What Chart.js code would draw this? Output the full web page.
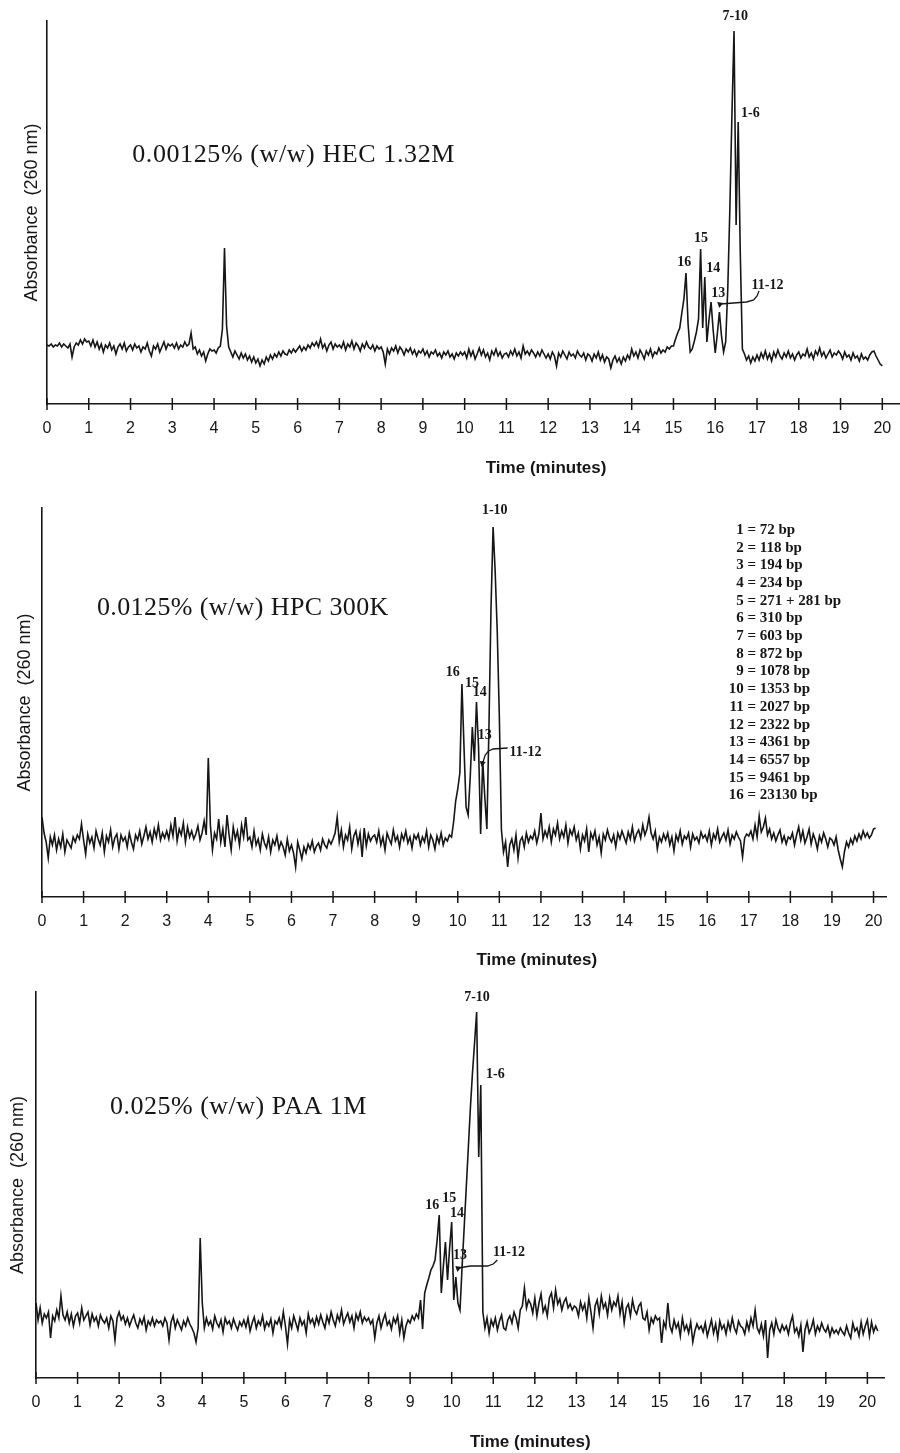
<!DOCTYPE html>
<html>
<head>
<meta charset="utf-8">
<script src="https://cdn.jsdelivr.net/npm/chart.js@4.4.1/dist/chart.umd.min.js"></script>
<style>
  body { margin: 0; background: #fff; width: 900px; height: 1453px; position: relative; overflow: hidden; }
  .panel { position: absolute; left: 0; width: 900px; }
</style>
</head>
<body>
<div class="panel" style="top:0;height:485px"><canvas id="hec"></canvas></div>
<div class="panel" style="top:480px;height:490px"><canvas id="hpc"></canvas></div>
<div class="panel" style="top:970px;height:483px"><canvas id="paa"></canvas></div>
<script>
// sampling step of the traces (minutes)
const STEP = 0.05;
const timeTicks = [0,1,2,3,4,5,6,7,8,9,10,11,12,13,14,15,16,17,18,19,20];

// absorbance traces, one row per minute
const hecAbs = [
  59,58,60,57,59,58,61,57,60,58,56,60,47,57,61,59,64,60,65,62,
  63,58,64,57,62,55,60,52,59,56,61,54,58,50,57,60,55,61,53,57,
  59,54,60,56,58,52,57,55,61,53,48,58,55,60,52,57,62,55,60,58,
  60,56,61,55,59,57,62,58,60,71,55,57,50,54,48,52,43,50,55,53,
  54,51,56,58,75,156,78,57,52,47,53,49,45,51,46,50,44,48,42,47,
  41,45,38,44,40,47,43,49,45,50,47,52,48,53,50,49,54,51,55,52,
  55,58,53,57,54,59,56,61,58,62,57,65,56,60,53,59,62,55,60,57,
  59,56,62,54,60,57,63,55,61,58,53,60,56,62,57,55,59,53,58,55,
  57,52,40,55,50,56,53,58,51,57,54,49,55,52,56,50,54,48,53,51,
  55,49,53,47,52,50,54,48,51,46,52,49,53,47,50,45,51,48,52,49,
  52,46,55,48,53,45,50,56,49,54,47,51,44,53,49,55,48,52,46,50,
  51,47,53,49,55,48,52,46,58,50,53,49,54,51,47,52,48,54,50,46,
  50,45,52,48,38,51,47,53,49,45,52,48,50,46,53,49,47,51,44,50,
  48,43,50,46,52,44,49,42,47,45,36,44,48,42,46,40,47,43,49,45,
  55,48,52,46,54,50,45,53,49,55,47,52,50,56,51,54,52,57,55,58,
  58,65,71,76,91,105,131,80,52,55,63,72,85,155,76,127,62,84,102,74,
  51,70,92,68,52,62,115,195,290,373,179,282,150,55,50,44,48,41,47,43,
  49,44,51,46,53,45,50,43,52,47,54,48,45,51,47,53,46,50,44,49,
  52,46,50,48,55,47,51,45,53,49,56,48,52,46,50,54,47,51,49,53,
  50,45,52,47,49,44,51,46,48,43,50,45,47,44,49,52,53,48,44,40,
  38
];
const hpcAbs = [
  80,64,55,39,60,52,62,47,58,50,63,45,57,53,49,60,55,62,58,73,
  57,43,63,54,60,49,66,58,52,64,45,61,55,67,50,59,63,48,62,56,
  60,50,64,55,48,62,57,66,53,61,70,58,65,55,68,60,72,57,64,59,
  66,58,72,61,80,56,68,62,74,55,70,60,66,58,63,71,57,64,76,62,
  139,72,47,64,58,78,55,68,50,82,62,47,70,58,66,52,72,60,80,57,
  60,50,66,52,58,47,63,54,49,60,45,57,52,61,48,55,50,42,58,46,
  52,44,30,55,47,38,50,44,53,48,56,45,51,54,47,58,52,49,57,53,
  58,64,80,55,67,50,62,57,70,48,61,66,53,64,40,69,51,63,56,60,
  62,55,66,52,60,47,64,58,53,67,56,61,50,63,57,66,54,60,49,62,
  58,63,52,60,55,66,50,62,57,48,61,54,64,52,59,56,62,60,75,96,
  108,124,213,150,90,82,120,170,136,195,150,63,136,100,68,170,290,370,325,265,
  180,67,45,55,30,52,58,47,62,39,56,60,50,64,55,61,58,66,54,63,
  84,58,66,60,70,55,68,62,74,58,66,60,72,54,67,62,70,57,64,48,
  62,56,68,45,64,58,66,52,60,44,63,57,67,59,55,62,50,64,58,66,
  60,54,65,58,70,56,63,67,59,72,62,68,80,64,58,66,48,60,55,63,
  57,64,52,60,46,62,56,66,53,61,58,64,50,63,57,60,54,65,59,62,
  56,66,52,63,58,68,55,60,64,57,67,53,62,58,65,60,56,40,59,63,
  61,66,58,72,60,81,65,70,79,62,68,58,64,56,62,67,55,61,53,60,
  58,64,52,62,70,57,66,54,60,68,53,63,57,48,61,55,64,58,50,59,
  57,52,60,47,38,30,45,55,50,58,53,61,56,63,58,66,60,64,59,62,
  68,69
];
const paaAbs = [
  75,58,70,55,64,60,66,40,62,57,68,60,82,63,58,66,55,64,52,62,
  65,55,70,58,62,66,53,64,57,61,52,63,58,55,60,50,62,57,38,60,
  66,58,62,54,60,52,58,63,55,50,59,54,61,48,57,53,60,52,58,55,
  57,52,60,55,38,56,62,50,58,53,48,57,52,60,54,50,45,36,50,140,
  75,50,60,53,57,49,62,55,51,58,46,60,54,57,50,59,53,48,56,52,
  58,51,60,47,55,61,50,57,53,62,49,56,52,59,45,57,54,60,51,66,
  52,34,58,50,62,55,48,60,53,57,45,64,55,59,52,61,54,63,56,50,
  62,55,66,58,52,63,57,68,54,60,65,56,62,50,64,58,66,55,61,57,
  60,54,58,40,55,62,50,58,64,53,57,49,60,55,62,45,58,40,52,58,
  55,62,58,64,60,78,49,85,93,100,108,112,118,138,163,85,112,136,98,130,
  156,78,101,75,68,111,150,190,230,270,305,335,366,221,293,66,50,60,45,58,
  52,60,48,57,63,50,48,58,62,55,66,60,50,68,72,90,70,78,74,65,
  80,62,75,84,66,72,62,80,85,70,88,74,79,68,76,80,70,74,68,72,
  70,62,76,68,74,60,80,66,50,72,78,64,82,70,75,63,80,68,76,72,
  82,64,76,55,70,74,62,78,68,64,72,75,60,58,66,48,60,55,62,58,
  60,35,56,50,75,52,46,58,50,55,42,60,48,53,45,56,36,47,54,49,
  52,46,55,42,50,58,45,54,40,57,49,53,44,56,48,60,50,45,57,52,
  50,44,56,48,60,52,68,50,45,54,42,58,20,48,55,44,58,50,46,53,
  48,52,44,55,62,46,50,42,53,26,48,56,45,50,58,44,52,47,55,49,
  46,52,42,50,45,48,44,50,46,43,52,45,40,55,47,50,42,56,44,52,
  58,42,56,46,52,47
];

// fragment sizes listed on the middle panel
const bandIds = ['1','2','3','4','5','6','7','8','9','10','11','12','13','14','15','16'];
const bandSizes = ['72 bp','118 bp','194 bp','234 bp','271 + 281 bp','310 bp','603 bp','872 bp',
  '1078 bp','1353 bp','2027 bp','2322 bp','4361 bp','6557 bp','9461 bp','23130 bp'];

const INK = '#161616';
const TITLE_FONT = '26px "Liberation Serif", serif';
const PEAK_FONT = 'bold 14px "Liberation Serif", serif';
const AXIS_TITLE_FONT = 'bold 17px "Liberation Sans", Arial, sans-serif';

// texts placed in data units (t = minutes, v = absorbance units)
const hecNotes = [
  { text: '0.00125% (w/w) HEC 1.32M', t: 2.04, v: 242, font: TITLE_FONT, align: 'left', base: 'alphabetic', spacing: '0.6px' },
  { text: '7-10', t: 16.48, v: 388, font: PEAK_FONT },
  { text: '1-6', t: 16.84, v: 291, font: PEAK_FONT },
  { text: '16', t: 15.26, v: 142, font: PEAK_FONT },
  { text: '15', t: 15.66, v: 166, font: PEAK_FONT },
  { text: '14', t: 15.95, v: 136, font: PEAK_FONT },
  { text: '13', t: 16.07, v: 111, font: PEAK_FONT },
  { text: '11-12', t: 17.25, v: 119, font: PEAK_FONT },
  { text: 'Time (minutes)', t: 11.95, v: -64, font: AXIS_TITLE_FONT }
];
const hecLeader = [[16.12, 100], [16.75, 102], [16.92, 104], [17.0, 108], [17.05, 113]];

const hpcNotes = [
  { text: '0.0125% (w/w) HPC 300K', t: 1.32, v: 282, font: TITLE_FONT, align: 'left', base: 'alphabetic', spacing: '0.4px' },
  { text: '1-10', t: 10.89, v: 387, font: PEAK_FONT },
  { text: '16', t: 9.88, v: 225, font: PEAK_FONT },
  { text: '15', t: 10.34, v: 214, font: PEAK_FONT },
  { text: '14', t: 10.53, v: 205, font: PEAK_FONT },
  { text: '13', t: 10.65, v: 162, font: PEAK_FONT },
  { text: '11-12', t: 11.63, v: 145, font: PEAK_FONT },
  { text: 'Time (minutes)', t: 11.9, v: -63, font: AXIS_TITLE_FONT }
];
const hpcLeader = [[10.6, 134], [10.66, 142], [10.74, 146], [10.85, 148], [11.2, 149]];

const paaNotes = [
  { text: '0.025% (w/w) PAA 1M', t: 1.78, v: 264, font: TITLE_FONT, align: 'left', base: 'alphabetic', spacing: '0.5px' },
  { text: '7-10', t: 10.61, v: 381, font: PEAK_FONT },
  { text: '1-6', t: 11.05, v: 304, font: PEAK_FONT },
  { text: '16', t: 9.53, v: 173, font: PEAK_FONT },
  { text: '15', t: 9.94, v: 180, font: PEAK_FONT },
  { text: '14', t: 10.13, v: 165, font: PEAK_FONT },
  { text: '13', t: 10.2, v: 123, font: PEAK_FONT },
  { text: '11-12', t: 11.38, v: 126, font: PEAK_FONT },
  { text: 'Time (minutes)', t: 11.89, v: -64, font: AXIS_TITLE_FONT }
];
const paaLeader = [[10.16, 110], [10.45, 112], [10.86, 112], [11.0, 114], [11.1, 118]];

// draws the peak labels, the 11-12 leader and (middle panel) the bp list
function notesPlugin(notes, leader, withBands) {
  return {
    id: 'notes',
    afterDraw(chart) {
      const ctx = chart.ctx;
      const xs = chart.scales.x, ys = chart.scales.y;
      const px = t => xs.getPixelForValue(t);
      const py = v => ys.getPixelForValue(v);
      const axisY = chart.chartArea.bottom;
      ctx.save();
      ctx.fillStyle = INK;
      ctx.strokeStyle = INK;

      // tick marks crossing the time axis
      ctx.lineWidth = 1.5;
      xs.ticks.forEach(tk => {
        const x = px(tk.value);
        ctx.beginPath();
        ctx.moveTo(x, axisY - 6);
        ctx.lineTo(x, axisY + 6);
        ctx.stroke();
      });

      notes.forEach(n => {
        ctx.font = n.font;
        ctx.letterSpacing = n.spacing || '0px';
        ctx.textAlign = n.align || 'center';
        ctx.textBaseline = n.base || 'middle';
        ctx.fillText(n.text, px(n.t), py(n.v));
      });
      ctx.letterSpacing = '0px';

      // leader line with a small arrow head at the peak end
      ctx.lineWidth = 1.3;
      ctx.beginPath();
      leader.forEach((p, i) => {
        if (i === 0) ctx.moveTo(px(p[0]), py(p[1]));
        else ctx.lineTo(px(p[0]), py(p[1]));
      });
      ctx.stroke();
      const ax = px(leader[0][0]), ay = py(leader[0][1]);
      ctx.beginPath();
      ctx.moveTo(ax - 1, ay + 4);
      ctx.lineTo(ax - 3, ay - 2);
      ctx.lineTo(ax + 3, ay - 1);
      ctx.closePath();
      ctx.fill();

      if (withBands) {
        ctx.font = 'bold 15px "Liberation Serif", serif';
        ctx.textBaseline = 'middle';
        const eqX = px(17.07);
        bandIds.forEach((id, i) => {
          const y = py(367 - i * 17.7);
          ctx.textAlign = 'right';
          ctx.fillText(id, eqX - 8, y);
          ctx.textAlign = 'center';
          ctx.fillText('=', eqX, y);
          ctx.textAlign = 'left';
          ctx.fillText(bandSizes[i], eqX + 8, y);
        });
      }
      ctx.restore();
    }
  };
}

// one chromatogram panel
function makePanel(id, values, opts) {
  const points = values.map((v, i) => ({ x: +(i * STEP).toFixed(2), y: v }));
  const ctx = document.getElementById(id).getContext('2d');
  return new Chart(ctx, {
    type: 'line',
    data: {
      datasets: [{
        data: points,
        borderColor: INK,
        borderWidth: 1.6,
        pointRadius: 0,
        tension: 0,
        fill: false
      }]
    },
    options: {
      responsive: true,
      maintainAspectRatio: false,
      animation: false,
      layout: { padding: { top: opts.top, right: opts.right, left: 0, bottom: 0 } },
      plugins: { legend: { display: false }, tooltip: { enabled: false } },
      scales: {
        x: {
          type: 'linear',
          min: 0,
          max: opts.xMax,
          afterBuildTicks: scale => { scale.ticks = timeTicks.map(v => ({ value: v })); },
          afterFit: scale => {
            scale.height = opts.xHeight;
            scale.paddingLeft = 0;
            scale.paddingRight = 0;
          },
          grid: { display: false, drawTicks: false },
          border: { display: true, color: INK, width: 1.6 },
          ticks: {
            color: INK,
            padding: 15,
            maxRotation: 0,
            autoSkip: false,
            font: { family: '"Liberation Sans", Arial, sans-serif', size: 16 }
          }
        },
        y: {
          min: 0,
          max: opts.yMax,
          afterFit: scale => { scale.width = opts.left; },
          grid: { display: false, drawTicks: false },
          border: { display: true, color: INK, width: 1.6 },
          ticks: { display: false },
          title: {
            display: true,
            text: 'Absorbance  (260 nm)',
            color: INK,
            padding: { top: opts.yTitlePad, bottom: 0 },
            font: { family: '"Liberation Sans", Arial, sans-serif', size: 18, weight: 'normal' }
          }
        }
      }
    },
    plugins: [notesPlugin(opts.notes, opts.leader, opts.bands)]
  });
}

makePanel('hec', hecAbs, { top: 21, right: 1, left: 47, xMax: 20.4, yMax: 383, xHeight: 81,
  yTitlePad: 21, notes: hecNotes, leader: hecLeader, bands: false });
makePanel('hpc', hpcAbs, { top: 28, right: 14, left: 42, xMax: 20.3, yMax: 389, xHeight: 73,
  yTitlePad: 14, notes: hpcNotes, leader: hpcLeader, bands: true });
makePanel('paa', paaAbs, { top: 22, right: 16, left: 36, xMax: 20.4, yMax: 386, xHeight: 75,
  yTitlePad: 7, notes: paaNotes, leader: paaLeader, bands: false });
</script>
</body>
</html>
